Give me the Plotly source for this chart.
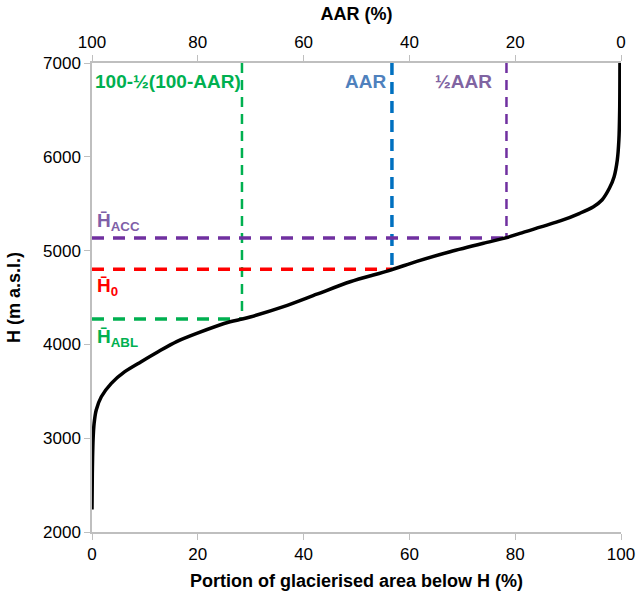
import plotly.graph_objects as go

# hypsometric curve (portion of area below H, %)
area_pct = [0, 0.06, 0.2, 0.4, 0.8, 1.76, 3.65, 6.2, 9.3, 12.5, 16.0, 19.8, 26.1, 28.4,
            29.9, 36.2, 42.5, 48.8, 56.3, 61.4, 67.7, 74.0, 78.4, 80.9, 88.5, 92.2, 94.8,
            96.4, 97.8, 98.7, 99.3, 99.6, 99.75, 99.8]
elev = [2240, 2626, 2981, 3159, 3301, 3442, 3585, 3709, 3816, 3922, 4030, 4118, 4242, 4270,
        4292, 4402, 4535, 4668, 4790, 4885, 4988, 5078, 5138, 5184, 5316, 5398, 5468,
        5539, 5664, 5788, 5966, 6179, 6499, 7000]

# reference values
aar = 43.3
h_acc = 5135
h_0 = 4800
h_abl = 4270
x_aar = 100 - aar                     # portion below H_0
x_half_aar = 100 - aar / 2            # portion below H_acc
x_abl = (100 - aar) / 2               # portion below H_abl

green = "#00b050"
blue = "#0070c0"
purple = "#7030a0"
red = "#ff0000"
font = "Liberation Sans, Arial, sans-serif"

fig = go.Figure()

# vertical dashed lines
fig.add_trace(go.Scatter(x=[x_abl, x_abl], y=[7000, h_abl], mode="lines",
                         line=dict(color=green, width=2.5, dash="10px,7px"), hoverinfo="skip"))
fig.add_trace(go.Scatter(x=[x_aar, x_aar], y=[7000, h_0], mode="lines",
                         line=dict(color=blue, width=3.5, dash="12px,7px"), hoverinfo="skip"))
fig.add_trace(go.Scatter(x=[x_half_aar, x_half_aar], y=[7000, h_acc], mode="lines",
                         line=dict(color=purple, width=2.5, dash="10px,7px"), hoverinfo="skip"))

# horizontal dashed lines
fig.add_trace(go.Scatter(x=[0, x_half_aar], y=[h_acc, h_acc], mode="lines",
                         line=dict(color=purple, width=3.5, dash="12px,9px"), hoverinfo="skip"))
fig.add_trace(go.Scatter(x=[0, x_aar], y=[h_0, h_0], mode="lines",
                         line=dict(color=red, width=3.5, dash="12px,9px"), hoverinfo="skip"))
fig.add_trace(go.Scatter(x=[0, x_abl], y=[h_abl, h_abl], mode="lines",
                         line=dict(color=green, width=3.5, dash="12px,9px"), hoverinfo="skip"))

# the curve
fig.add_trace(go.Scatter(x=area_pct, y=elev, mode="lines",
                         line=dict(color="black", width=3.5, shape="spline", smoothing=0.8)))

# dummy trace so the top AAR axis gets drawn
fig.add_trace(go.Scatter(x=[100, 0], y=[None, None], xaxis="x2", mode="lines",
                         showlegend=False, hoverinfo="skip"))

fig.add_annotation(x=0.2, y=6800, text="<b>100-½(100-AAR)</b>", xanchor="left",
                   font=dict(family=font, size=19, color=green), showarrow=False)
fig.add_annotation(x=56.0, y=6800, text="<b>AAR</b>", xanchor="right",
                   font=dict(family=font, size=19, color="#4f81bd"), showarrow=False)
fig.add_annotation(x=76.0, y=6800, text="<b>½AAR</b>", xanchor="right",
                   font=dict(family=font, size=19, color="#8064a2"), showarrow=False)
fig.add_annotation(x=0.6, y=5300, text="<b>H̄<sub>ACC</sub></b>", xanchor="left",
                   font=dict(family=font, size=19, color="#7f5fa8"), showarrow=False)
fig.add_annotation(x=0.6, y=4610, text="<b>H̄<sub>0</sub></b>", xanchor="left",
                   font=dict(family=font, size=19, color=red), showarrow=False)
fig.add_annotation(x=0.6, y=4070, text="<b>H̄<sub>ABL</sub></b>", xanchor="left",
                   font=dict(family=font, size=19, color=green), showarrow=False)

axis_style = dict(showgrid=False, zeroline=False, showline=True, linecolor="#bfbfbf",
                  linewidth=1.5, ticks="outside", tickcolor="#bfbfbf", ticklen=6,
                  automargin=False,
                  tickfont=dict(family=font, size=17, color="black"))
title_font = dict(family=font, size=18, color="black")

fig.update_layout(
    width=636, height=591,
    margin=dict(l=92, r=15, t=63, b=59),
    plot_bgcolor="white", paper_bgcolor="white",
    showlegend=False,
    xaxis=dict(range=[0, 100], tick0=0, dtick=20,
               title=dict(text="<b>Portion of glacierised area below H (%)</b>",
                          font=title_font, standoff=12),
               **axis_style),
    xaxis2=dict(range=[100, 0], tick0=0, dtick=20, overlaying="x", side="top",
                title=dict(text="<b>AAR (%)</b>", font=title_font, standoff=8),
                **axis_style),
    yaxis=dict(range=[2000, 7000], dtick=1000,
               title=dict(text="<b>H (m a.s.l.)</b>", font=title_font, standoff=18),
               **axis_style),
)

# drop the page's default body margin so the figure sits at the window corner
fig.write_html("out.html", config={"displayModeBar": False},
               post_script="document.body.style.margin='0';document.body.style.overflow='hidden';")
